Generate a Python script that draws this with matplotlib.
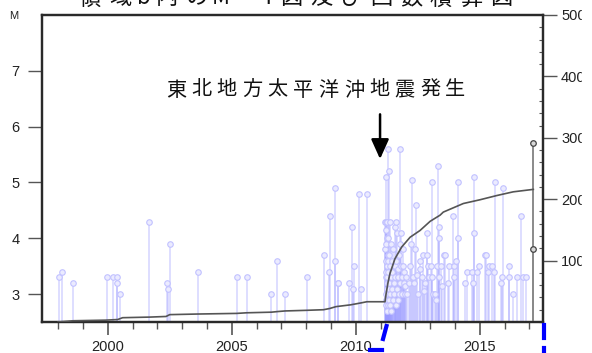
import numpy as np
import matplotlib.pyplot as plt
from matplotlib.lines import Line2D
from matplotlib.patches import Rectangle

plt.rcParams['font.family'] = ['Liberation Sans', 'DejaVu Sans']
CJK = ['Noto Sans CJK JP', 'DejaVu Sans']

# events before the 2011 earthquake (decimal year, magnitude)
pre_years = [1998.05, 1998.15, 1998.59, 1999.96, 2000.20, 2000.36, 2000.38, 2000.50,
             2001.68, 2002.40, 2002.43, 2002.51, 2003.65, 2005.20, 2005.60, 2006.57,
             2006.84, 2007.15, 2008.02, 2008.71, 2008.91, 2008.95, 2009.15, 2009.17,
             2009.27, 2009.30, 2009.74, 2009.84, 2009.90, 2009.93, 2010.15, 2010.20, 2010.44]
pre_mags = [3.3, 3.4, 3.2, 3.3, 3.3, 3.3, 3.2, 3.0,
            4.3, 3.2, 3.1, 3.9, 3.4, 3.3, 3.3, 3.0,
            3.6, 3.0, 3.3, 3.7, 3.4, 4.4, 4.9, 3.6,
            3.2, 3.2, 3.2, 4.2, 3.1, 3.5, 4.8, 3.1, 4.8]

# aftershock cluster 2011
cl_years = [2011.19, 2011.19, 2011.20, 2011.20, 2011.21, 2011.21, 2011.22, 2011.22,
            2011.23, 2011.23, 2011.24, 2011.24, 2011.25, 2011.25, 2011.26, 2011.26,
            2011.27, 2011.27, 2011.28, 2011.28, 2011.29, 2011.29, 2011.30, 2011.30,
            2011.31, 2011.32, 2011.32, 2011.33, 2011.33, 2011.34, 2011.35, 2011.36,
            2011.37, 2011.38, 2011.39, 2011.40, 2011.41, 2011.42, 2011.44, 2011.45,
            2011.47, 2011.48, 2011.50, 2011.52, 2011.53, 2011.55, 2011.57, 2011.58,
            2011.60, 2011.61, 2011.63, 2011.64, 2011.66, 2011.67, 2011.69, 2011.70,
            2011.72, 2011.73, 2011.75, 2011.77, 2011.78, 2011.80, 2011.82, 2011.84,
            2011.85, 2011.87, 2011.89, 2011.91, 2011.93, 2011.95, 2011.97, 2011.99]
cl_mags = [3.8, 4.3, 5.1, 3.3, 2.9, 4.15, 3.6, 3.0,
           4.3, 3.4, 2.8, 3.9, 3.2, 4.0, 3.5, 2.7,
           3.1, 4.3, 3.3, 2.9, 5.6, 3.7, 3.0, 3.4,
           2.8, 3.6, 4.0, 5.2, 3.2, 2.9, 3.7, 3.1,
           4.3, 3.5, 2.8, 3.0, 3.9, 3.3, 2.7, 3.6,
           3.1, 3.4, 2.9, 3.8, 3.2, 3.0, 4.2, 3.5,
           3.3, 2.8, 4.3, 3.6, 3.1, 4.1, 3.3, 2.9,
           3.45, 3.7, 3.0, 5.6, 3.2, 3.9, 3.5, 4.1,
           3.0, 3.3, 3.8, 3.5, 3.2, 3.4, 3.0, 3.15]

# later events 2012-2016
post_years = [2012.03, 2012.08, 2012.13, 2012.18, 2012.24, 2012.26, 2012.30, 2012.35,
              2012.40, 2012.43, 2012.45, 2012.52, 2012.59, 2012.61, 2012.66, 2012.70,
              2012.75, 2012.80, 2012.86, 2012.88, 2012.93, 2012.97, 2013.02, 2013.06,
              2013.06, 2013.12, 2013.20, 2013.25, 2013.29, 2013.33, 2013.37, 2013.37,
              2013.37, 2013.43, 2013.47, 2013.56, 2013.58, 2013.73, 2013.78, 2013.94,
              2013.96, 2013.96, 2014.04, 2014.11, 2014.14, 2014.41, 2014.48, 2014.68,
              2014.72, 2014.77, 2014.78, 2014.88, 2014.98, 2015.21, 2015.25, 2015.35,
              2015.39, 2015.48, 2015.58, 2015.62, 2015.85, 2015.89, 2015.93, 2016.19,
              2016.19, 2016.35, 2016.52, 2016.65, 2016.73, 2016.87]
post_mags = [3.3, 3.0, 3.2, 3.5, 3.9, 5.05, 3.3, 3.2,
             3.8, 4.6, 3.35, 3.0, 3.6, 3.45, 3.3, 3.7,
             3.05, 3.2, 4.1, 3.7, 3.5, 3.3, 3.5, 5.0,
             3.3, 3.0, 3.0, 2.9, 3.5, 5.3, 4.2, 4.0,
             3.3, 3.5, 3.15, 3.7, 3.7, 3.2, 3.5, 4.4,
             3.5, 3.3, 3.6, 5.0, 4.0, 3.2, 3.4, 3.4,
             3.2, 5.1, 4.1, 3.4, 3.5, 3.7, 3.7, 3.4,
             3.5, 3.5, 3.4, 5.0, 3.2, 3.3, 4.9, 3.5,
             3.3, 3.0, 3.3, 4.4, 3.3, 3.3]

# latest period (grey)
new_years = [2017.15, 2017.15]
new_mags = [5.7, 3.8]

# cumulative number curve (right axis)
cum_years = [1998.0, 1998.6, 1999.9, 2000.4, 2000.6, 2001.7, 2002.35, 2002.5, 2003.65,
             2005.2, 2005.6, 2006.6, 2006.85, 2007.15, 2008.0, 2008.7, 2008.95, 2009.2,
             2009.8, 2010.2, 2010.45, 2011.18, 2011.22, 2011.3, 2011.38, 2011.58, 2011.85,
             2012.19, 2012.59, 2013.0, 2013.4, 2013.53, 2014.34, 2015.0, 2015.69, 2016.35,
             2017.16]
cum_counts = [0, 2, 3, 4, 7, 8, 9, 12, 13,
              14, 15, 16, 17, 18, 19, 20, 22, 25,
              28, 31, 33, 33, 45, 64, 79, 103, 122,
              138, 149, 164, 174, 179, 193, 199, 206, 212,
              216]

W, H = 592, 353
fig = plt.figure(figsize=(W / 100, H / 100), dpi=100)
ax = fig.add_axes([42 / W, 31 / H, 501 / W, 307 / H])


def fx(x):
    return x / W


def fy(y):
    return 1 - y / H


years = pre_years + cl_years + post_years
mags = pre_mags + cl_mags + post_mags
ax.vlines(years, 2.5, mags, color='#9a9aff', alpha=0.42, lw=1.1, zorder=2)
ax.plot(years, mags, 'o', ms=4, mfc='#ebebff', mec='#c2c2ff', mew=0.8, zorder=3)

ax.vlines(new_years, 2.5, new_mags, color='#8a8a8a', lw=1.4, zorder=4)
ax.plot(new_years, new_mags, 'o', ms=4, mfc='#d8d8d8', mec='#444444', mew=0.9, zorder=5)

ax.set_xlim(1997.35, 2017.55)
ax.set_ylim(2.5, 8.0)
ax.set_xticks([2000, 2005, 2010, 2015])
ax.set_xticks(np.arange(1998, 2018), minor=True)
ax.set_yticks([3, 4, 5, 6, 7])
ax.tick_params(axis='x', which='major', length=9, width=1.2, color='#555555',
               pad=4, labelsize=10.5, labelcolor='#222222')
ax.tick_params(axis='x', which='minor', length=5, width=1.0, color='#555555')
ax.tick_params(axis='y', length=10, width=1.0, color='#555555',
               pad=6, labelsize=10.5, labelcolor='#222222')

ax2 = ax.twinx()
ax2.plot(cum_years, cum_counts, color='#555555', lw=1.2, zorder=6)
ax2.set_ylim(0, 500)
ax2.set_yticks([100, 200, 300, 400, 500])
ax2.set_yticks(np.arange(0, 501, 20), minor=True)
ax2.tick_params(axis='y', which='major', length=10, width=1.0, color='#555555',
                pad=3, labelsize=10.5, labelcolor='#222222')
ax2.tick_params(axis='y', which='minor', direction='in', length=3, width=0.8,
                color='#555555')

for a in (ax, ax2):
    for s in a.spines.values():
        s.set_linewidth(1.6)
        s.set_color('#2a2a2a')

fig.text(fx(14), fy(16), 'M', fontsize=8, ha='center', va='center', color='#222222')

# title (top part is cut off in the source)
title = '領域b内のM－T図及び回数積算図'
x = 75
for ch in title:
    w = 17 if ch.isascii() else 30
    fig.text(fx(x + w / 2), fy(-2), ch, fontsize=16, ha='center', va='center',
             family=CJK, color='#111111')
    x += w

# annotation
label = '東北地方太平洋沖地震発生'
for i, ch in enumerate(label):
    fig.text(fx(176 + i * 25.4), fy(90), ch, fontsize=14.5, ha='center', va='center',
             family=CJK, color='#111111')
ax.annotate('', xy=(2010.98, 5.37), xytext=(2010.98, 6.27),
            arrowprops=dict(arrowstyle='-|>,head_length=0.6,head_width=0.27',
                            color='black', lw=1.8, mutation_scale=20))

# blue marks at the bottom edge of the source image
for xs, ys in [([383, 386.5], [339, 326]), ([370, 382], [349.5, 349.5]),
               ([543.5, 543.5], [325, 338]), ([543.5, 543.5], [348, 353])]:
    fig.add_artist(Line2D([fx(v) for v in xs], [fy(v) for v in ys],
                          transform=fig.transFigure, color='#0000ff', lw=3))

fig.add_artist(Rectangle((fx(582), 0), fx(10), 1, transform=fig.transFigure,
                         color='white', zorder=10))

fig.savefig('out.png', dpi=100)
